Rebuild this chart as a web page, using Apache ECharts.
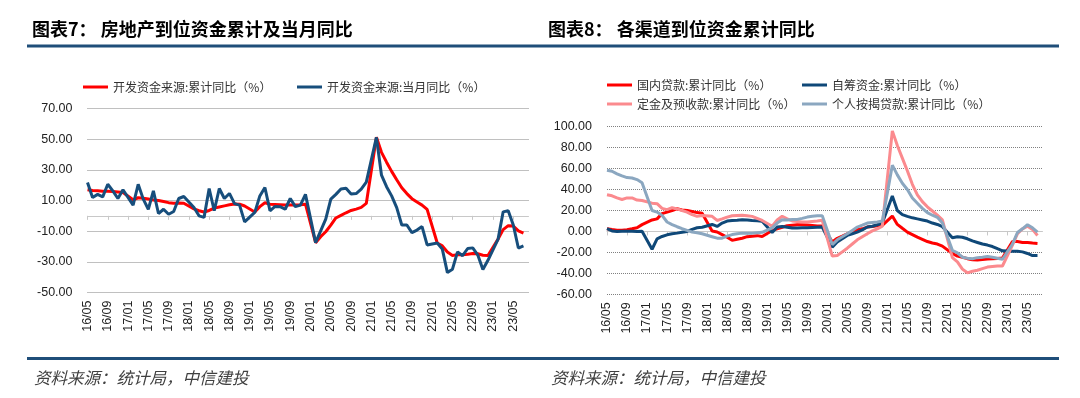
<!DOCTYPE html>
<html><head><meta charset="utf-8">
<script src="https://cdn.jsdelivr.net/npm/echarts@6.0.0/dist/echarts.min.js"></script>
<style>html,body{margin:0;padding:0;background:#fff}#c{width:1080px;height:398px}</style>
</head><body><div id="c"></div>
<script>
// month labels 2016/05 .. 2023/08
const categories = [
 '16/05','16/06','16/07','16/08','16/09','16/10','16/11','16/12',
 '17/01','17/02','17/03','17/04','17/05','17/06','17/07','17/08','17/09','17/10','17/11','17/12',
 '18/01','18/02','18/03','18/04','18/05','18/06','18/07','18/08','18/09','18/10','18/11','18/12',
 '19/01','19/02','19/03','19/04','19/05','19/06','19/07','19/08','19/09','19/10','19/11','19/12',
 '20/01','20/02','20/03','20/04','20/05','20/06','20/07','20/08','20/09','20/10','20/11','20/12',
 '21/01','21/02','21/03','21/04','21/05','21/06','21/07','21/08','21/09','21/10','21/11','21/12',
 '22/01','22/02','22/03','22/04','22/05','22/06','22/07','22/08','22/09','22/10','22/11','22/12',
 '23/01','23/02','23/03','23/04','23/05','23/06','23/07','23/08'];

const leftYTicks = [-50, -30, -10, 10, 30, 50, 70];
const rightYTicks = [-60, -40, -20, 0, 20, 40, 60, 80, 100];

// 开发资金来源:累计同比
const devCum = [
 17, 16.5, 16.3, 16, 16, 15.8, 15.5, 15.2,
 null, 10.5, 11.8, 11.5, 11, 10.3, 10, 9.3, 8.6, 8.2, 8.3, 8.2,
 null, 4.5, 3.3, 2.5, 3.5, 5, 5.8, 6.5, 7.2, 7.7, 7.6, 6.4,
 null, 2.5, 6, 8.5, 7.6, 7.4, 7.2, 7, 7, 7.1, 7.2, 7.6,
 null, -17.5, -13.6, -10.4, -6.1, -1.4, 0.3, 2, 3.5, 4.4, 5.5, 8.1,
 null, 51.2, 41.4, 35, 29, 23.5, 18.3, 14.5, 11.2, 9, 7, 4.2,
 null, -17.7, -19.6, -23.6, -25.8, -25.3, -25.4, -25, -24.5, -24.7, -25.7, -25.9,
 null, -15.2, -9, -6.4, -6.6, -9.8, -11.2, null];

// 开发资金来源:当月同比
const devMon = [
 21.7, 12, 14, 12.4, 20.6, 16.3, 11.3, 17,
 null, 7, 20.6, 10.9, 4.3, 16.3, 1.5, 4.3, 1, 2.8, 11.3, 12.6,
 null, 5.4, 0, -1, 17.8, 3.3, 17.8, 11.3, 14.6, 8, 7, -3.9,
 null, 2.2, 13, 18.5, 3.3, 6.1, 6, 4.3, 11.3, 6, 7, 14,
 null, -17.5, -9.8, -2.2, 10.9, 14, 17.5, 18, 14.2, 14.5, 17.4, 22,
 null, 51.2, 26.5, 19, 13, 5.4, -6, -6, -11, -9.3, -7, -19,
 null, -17.7, -21.7, -37, -34.8, -23.5, -26, -21.3, -20.9, -25.6, -35, -29,
 null, -15.2, 2.6, 3.3, -6, -21, -19.6, null];

// 国内贷款:累计同比
const domLoan = [
 2.6, 1.8, 1.2, 1.2, 1.6, 2.5, 3.5, 6.5,
 null, 11, 12, 17, 18.5, 20, 21.7, 20.5, 20, 19, 18, 17.3,
 null, 0.5, -0.5, -3, -5.5, -8.5, -7.5, -6.5, -5, -4.5, -4, -4.9,
 null, 1, 2.5, 4, 5.5, 6, 6.4, 6.5, 6.2, 5.8, 5.3, 5.1,
 null, -10, -6.5, -4.5, -2.2, -0.5, 1.6, 2.5, 4.2, 4.8, 5.5, 5.8,
 null, 14.7, 6.7, 3, -0.6, -3, -5.4, -7.5, -9.6, -11, -12, -14,
 null, -21, -23.5, -24.6, -26, -27, -27.2, -26.8, -26.3, -26, -25.8, -25.4,
 null, -9.6, -9.6, -10.5, -10.5, -11.1, -11.5, null];

// 自筹资金:累计同比
const selfFund = [
 2.6, 0.5, 0, 0.3, 0.2, 0.2, 0, 0.2,
 null, -17, -7, -4.8, -3.2, -2.2, -1.6, -0.8, 0, 2, 3.5, 4,
 null, 6.7, 4.8, 8, 9.9, 10.5, 10.8, 11.2, 11, 10.5, 10.2, 9.7,
 null, -1, 4.2, 4.8, 4, 3.2, 3.3, 3.5, 3.6, 3.8, 4, 4.2,
 null, -15, -10, -7, -3.8, -2.2, -0.6, 1.5, 4.2, 5, 6.4, 8,
 null, 33.9, 20, 16, 14.4, 13, 12, 11, 9.9, 8, 6.7, 4.5,
 null, -6, -5, -5.5, -7, -9, -10.5, -12, -13, -14.4, -16.5, -18.5,
 null, -19, -19, -19.5, -21, -23, -23, null];

// 定金及预收款:累计同比
const deposit = [
 35, 34, 32, 30.5, 32, 32, 30, 29.5,
 null, 27, 26.5, 22, 20.8, 22.7, 21.5, 20, 18.5, 16, 14.4, 15.3,
 null, 14.4, 10.5, 12, 13.7, 15, 15.3, 15.5, 15, 14.4, 12.5, 10.5,
 null, 5, 11, 14.5, 12, 10, 9.5, 9, 9, 9.5, 10, 10.7,
 null, -23.5, -23, -19.5, -16, -12, -8, -5, -2.2, 0.5, 2.5, 5,
 null, 96, 82, 70, 58, 45, 35, 28.5, 23.5, 19.5, 15.5, 11,
 null, -25, -29, -36, -39.5, -38, -37, -35.5, -34, -33.5, -33, -33,
 null, -13, -2, 2.5, 5, 2, -3.8, null];

// 个人按揭贷款:累计同比
const mortgage = [
 58.5, 57.5, 55, 53, 51.4, 51, 49.5, 46.5,
 null, 20, 18.5, 15.3, 9, 6.5, 4.5, 2.6, 1, -0.5, -1.3, -2.2,
 null, -5, -6.4, -6.4, -4.5, -3, -2.2, -1.6, -1.6, -1.6, -1.2, -0.8,
 null, 3.5, 8, 11.2, 11, 11.3, 11.5, 12.5, 13.7, 14.5, 15, 15.1,
 null, -12.5, -8, -5, -2.2, 1, 4.2, 6, 8, 8.5, 9, 9.9,
 null, 63.3, 54, 46, 40, 32, 27, 22, 18, 15.5, 13.5, 8,
 null, -18, -20.5, -24.6, -25.5, -26, -25, -24.6, -24, -24.6, -25.5, -26.5,
 null, -12, -1, 2.5, 6.4, 3.5, -0.6, null];

const CJK = 'Noto Sans CJK SC';
const NUM = 'Liberation Sans';

function labelAxis(grid) {
  return {
    gridIndex: grid, type: 'category', data: categories, boundaryGap: false,
    position: 'bottom',
    axisLine: {show: false, onZero: false}, axisTick: {show: false},
    axisLabel: {interval: 3, rotate: 90, margin: 8, fontSize: 12.5, fontFamily: NUM, color: '#222',
      hideOverlap: false},
    splitLine: {show: false}
  };
}
function zeroAxis(grid) {
  return {
    gridIndex: grid, type: 'category', data: categories, boundaryGap: false,
    position: 'top',
    axisLine: {show: true, onZero: true, lineStyle: {color: '#c8c8c8', width: 1}},
    axisTick: {show: true, inside: true, interval: 3, length: 4, lineStyle: {color: '#c8c8c8'}},
    axisLabel: {show: false}, splitLine: {show: false}
  };
}
function valAxis(grid, ticks) {
  return {
    gridIndex: grid, type: 'value', min: ticks[0], max: ticks[ticks.length - 1],
    interval: ticks[1] - ticks[0],
    axisLine: {show: false, onZero: false}, axisTick: {show: false},
    axisLabel: {formatter: v => v.toFixed(2), fontSize: 12.5, fontFamily: NUM, color: '#222', margin: 15},
    splitLine: {show: true, lineStyle: {color: '#808080', width: 1, type: [1, 1]}}
  };
}
function lineSeries(name, data, color, xi, yi) {
  return {
    name, type: 'line', data, xAxisIndex: xi, yAxisIndex: yi,
    showSymbol: false, symbol: 'none', connectNulls: true, smooth: false,
    lineStyle: {color, width: 3}, itemStyle: {color}, emphasis: {disabled: true},
    animation: false
  };
}
function legendAt(name, left, top) {
  return {
    data: [name], left, top, icon: 'rect', itemWidth: 25, itemHeight: 3, itemGap: 0,
    textStyle: {fontSize: 12, fontFamily: CJK, color: '#333'}, selectedMode: false
  };
}

const C_RED = '#ff0000', C_BLUE = '#174e7c', C_PINK = '#fb8a8e', C_LBLUE = '#8ba7c0';
const S1 = '开发资金来源:累计同比（%）', S2 = '开发资金来源:当月同比（%）';
const R1 = '国内贷款:累计同比（%）', R2 = '自筹资金:累计同比（%）',
      R3 = '定金及预收款:累计同比（%）', R4 = '个人按揭贷款:累计同比（%）';

const chart = echarts.init(document.getElementById('c'), null, {renderer: 'canvas'});
chart.setOption({
  animation: false,
  backgroundColor: '#fff',
  title: [
    {text: '图表7： 房地产到位资金累计及当月同比', left: 27, top: 15,
     textStyle: {fontSize: 18, fontWeight: 'bold', fontFamily: CJK, color: '#000'}},
    {text: '图表8： 各渠道到位资金累计同比', left: 543, top: 15,
     textStyle: {fontSize: 18, fontWeight: 'bold', fontFamily: CJK, color: '#000'}},
    {text: '资料来源：统计局，中信建投', left: 29, top: 364,
     textStyle: {fontSize: 16.5, fontWeight: 'normal', fontStyle: 'italic', fontFamily: CJK, color: '#404040'}},
    {text: '资料来源：统计局，中信建投', left: 546, top: 364,
     textStyle: {fontSize: 16.5, fontWeight: 'normal', fontStyle: 'italic', fontFamily: CJK, color: '#404040'}}
  ],
  graphic: [
    {type: 'rect', shape: {x: 27, y: 44.5, width: 1032, height: 3}, style: {fill: '#1f4e79'}, silent: true},
    {type: 'rect', shape: {x: 27, y: 357, width: 1032, height: 3}, style: {fill: '#1f4e79'}, silent: true}
  ],
  legend: [
    legendAt(S1, 78, 76), legendAt(S2, 292, 76),
    legendAt(R1, 602, 74), legendAt(R2, 797, 74),
    legendAt(R3, 602, 93), legendAt(R4, 797, 93)
  ],
  grid: [
    {left: 87.5, top: 108.5, width: 441, height: 184, outerBoundsMode: 'none', containLabel: false},
    {left: 607, top: 126.7, width: 435.5, height: 167.6, outerBoundsMode: 'none', containLabel: false}
  ],
  xAxis: [labelAxis(0), zeroAxis(0), labelAxis(1), zeroAxis(1)],
  yAxis: [valAxis(0, leftYTicks), valAxis(1, rightYTicks)],
  series: [
    lineSeries(S1, devCum, C_RED, 0, 0),
    lineSeries(S2, devMon, C_BLUE, 0, 0),
    lineSeries(R1, domLoan, C_RED, 2, 1),
    lineSeries(R2, selfFund, '#0f4878', 2, 1),
    lineSeries(R3, deposit, C_PINK, 2, 1),
    lineSeries(R4, mortgage, C_LBLUE, 2, 1)
  ]
});
</script></body></html>
